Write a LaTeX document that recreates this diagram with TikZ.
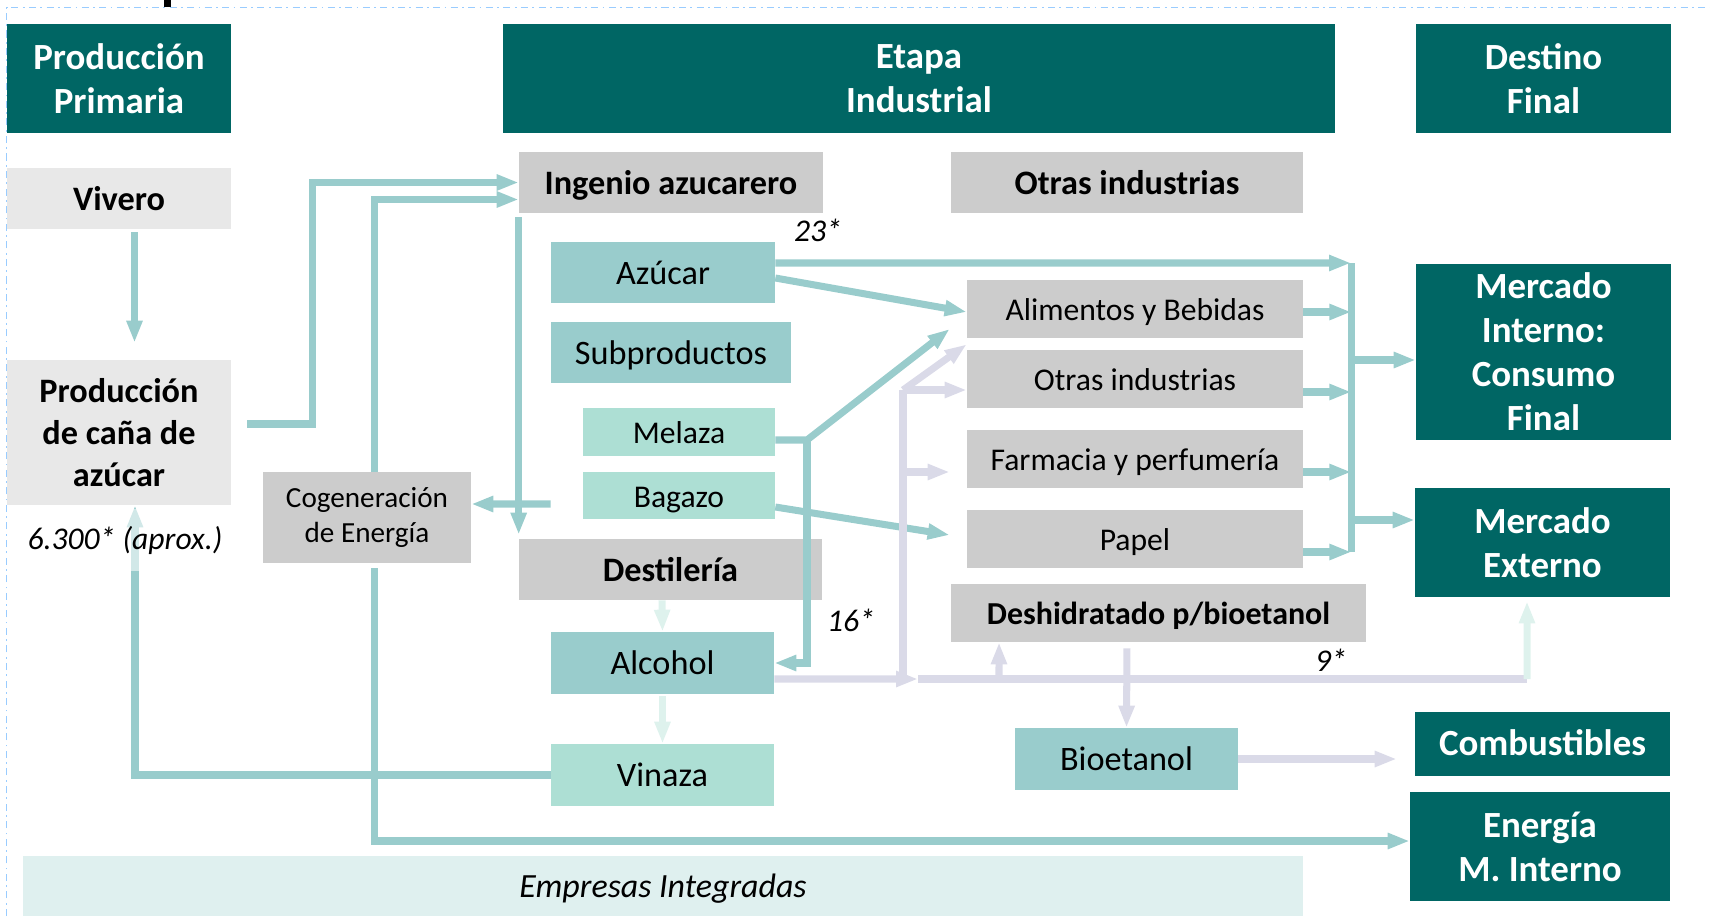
\documentclass[tikz,border=0pt]{standalone}
\usepackage{fontspec}
\setmainfont{Carlito}
\usepackage{tikz}
\usetikzlibrary{positioning, arrows.meta}

\definecolor{teDark}{RGB}{0,102,100}
\definecolor{teFlow}{RGB}{153,204,204}
\definecolor{teMint}{RGB}{173,223,212}
\definecolor{grBox}{RGB}{204,204,204}
\definecolor{grLight}{RGB}{232,232,232}
\definecolor{lavLine}{RGB}{218,218,232}
\definecolor{palLine}{RGB}{222,242,237}
\definecolor{bandBg}{RGB}{223,240,239}
\definecolor{borderBlue}{RGB}{153,204,255}

\begin{document}
\begin{tikzpicture}[x=0.02cm, y=-0.02cm,
		box/.style={rectangle, inner sep=0pt, align=center},
		oneline/.style={text height=13.5pt, text depth=0pt},
		head/.style={box, fill=teDark, text=white, minimum height=2.18cm, font=\fontsize{21}{25}\selectfont\bfseries},
		prim/.style={box, fill=grLight, minimum width=4.48cm, font=\fontsize{19.5}{23.8}\selectfont\bfseries},
		stage/.style={box, oneline, fill=grBox, minimum height=1.22cm, font=\fontsize{19.5}{23}\selectfont\bfseries},
		sector/.style={box, oneline, fill=grBox, minimum width=6.72cm, minimum height=1.16cm, font=\fontsize{18}{21}\selectfont},
		product/.style={box, oneline, fill=teFlow, minimum height=1.22cm, font=\fontsize{19.5}{23}\selectfont},
		byprod/.style={box, oneline, fill=teMint, minimum width=3.84cm, font=\fontsize{18}{21}\selectfont},
		cifra/.style={font=\fontsize{18}{21}\selectfont\itshape},
		link/.style={draw=teFlow, line width=4pt},
		flow/.style={link, -{Triangle[width=0.3cm, length=0.44cm]}},
		lavlink/.style={link, draw=lavLine},
		lavflow/.style={flow, draw=lavLine},
		palflow/.style={flow, draw=palLine}]
				\useasboundingbox (0,0) rectangle (1710,916);
				\draw[borderBlue, line width=0.6pt, dash pattern=on 4pt off 2.5pt on 1pt off 2.5pt] (6.5,916) -- (6.5,7.3) -- (1710,7.3);
				\fill (164,0) rectangle (171,7);
				
				% Encabezados
				\node[head, minimum width=4.48cm] (hprim) at (119,78.5) {Producción\\Primaria};
				\node[head, minimum width=16.64cm] (hind) at (919,78.5) {Etapa\\Industrial};
				\node[head, minimum width=5.1cm] (hdest) at (1543.5,78.5) {Destino\\Final};
				
				% Producción primaria
				\node[prim, oneline, minimum height=1.22cm] (vivero) at (119,198.5) {Vivero};
				\node[prim, minimum height=2.9cm] (cana) at (119,432.5) {Producción\\de caña de\\azúcar};
				\node[box, fill=grBox, minimum width=4.16cm, minimum height=1.82cm, font=\fontsize{16.6}{19.8}\selectfont] (cogen) at (367,517.5) {Cogeneración\\de Energía};
				
				% Etapa industrial
				\node[stage, minimum width=6.08cm] (ingenio) at (671,182.5) {Ingenio azucarero};
				\node[stage, minimum width=7.04cm] (otrashead) at (1127,182.5) {Otras industrias};
				\node[product, minimum width=4.48cm] (azucar) at (663,272.5) {Azúcar};
				\node[product, minimum width=4.8cm] (subprod) at (671,352.5) {Subproductos};
				\node[byprod, minimum height=0.96cm] (melaza) at (679,432) {Melaza};
				\node[byprod, minimum height=0.94cm] (bagazo) at (679,495.5) {Bagazo};
				\node[stage, minimum width=6.06cm] (destil) at (670.5,569.5) {Destilería};
				\node[product, minimum width=4.46cm, minimum height=1.24cm] (alcohol) at (662.5,663) {Alcohol};
				\node[byprod, minimum width=4.46cm, minimum height=1.24cm, font=\fontsize{19.5}{23}\selectfont] (vinaza) at (662.5,775) {Vinaza};
				\node[sector] (alim) at (1135,309) {Alimentos y Bebidas};
				\node[sector] (otras) at (1135,379) {Otras industrias};
				\node[sector] (farm) at (1135,459) {Farmacia y perfumería};
				\node[sector] (papel) at (1135,539) {Papel};
				\node[stage, minimum width=8.3cm, minimum height=1.16cm, font=\fontsize{18.2}{21}\selectfont\bfseries] (deshid) at (1158.5,613) {Deshidratado p/bioetanol};
				\node[product, minimum width=4.46cm, minimum height=1.24cm] (bioet) at (1126.5,759) {Bioetanol};
				\node[box, oneline, fill=bandBg, minimum width=25.6cm, minimum height=1.2cm, font=\fontsize{19.3}{23}\selectfont\itshape] (empresas) at (663,886) {Empresas Integradas};
				
				% Destino final
				\node[head, minimum width=5.1cm, minimum height=3.52cm] (minterno) at (1543.5,352) {Mercado\\Interno:\\Consumo\\Final};
				\node[head, minimum width=5.1cm] (mexterno) at (1542.5,542.5) {Mercado\\Externo};
				\node[head, oneline, minimum width=5.1cm, minimum height=1.28cm] (combust) at (1542.5,744) {Combustibles};
				\node[head, minimum width=5.2cm] (energia) at (1540,846.5) {Energía\\M. Interno};
				
				% Puntos de unión
				\coordinate (bustop) at (1351,263);
				\coordinate (busbot) at (1351,552);
				\coordinate (busint) at (1351,360);
				\coordinate (busext) at (1351,520);
				\coordinate (melj) at (807,440);
				\coordinate (alcj) at (918,679);
				\coordinate (lavbot) at (903,679);
				\coordinate (lavtop) at (903,390);
				\coordinate (lavfarm) at (903,472);
				\coordinate (extj) at (1527,679);
				
				% Flujos de la producción primaria
				\draw[flow, shorten <=0.06cm, shorten >=0.34cm] ([xshift=0.31cm]vivero.south) -- ([xshift=0.31cm]cana.north);
				\draw[flow] ([xshift=0.32cm, yshift=0.17cm]cana.east) -- ++(1.3cm,0) |- (ingenio.west);
				\draw[flow] ([xshift=0.15cm]cogen.north) |- ([yshift=-0.34cm]ingenio.west);
				\draw[flow, shorten <=0.1cm] ([xshift=0.15cm]cogen.south) |- ([yshift=0.11cm]energia.west);
				\draw[flow] (vinaza.west) -| ([xshift=0.32cm]cana.south);
				\node[cifra, fill=white, fill opacity=0.55, text opacity=1, inner sep=0pt, minimum width=3.96cm, minimum height=1.24cm] (cifracana) at (125,540) {6.300* (aprox.)};
				
				% Flujos del ingenio
				\draw[flow, shorten <=0.08cm, shorten >=0.08cm] (ingenio.south west) -- (destil.north west);
				\draw[flow] ([xshift=-0.64cm, yshift=-0.17cm]bagazo.west) -- ([yshift=0.27cm]cogen.east);
				\draw[flow] ([yshift=0.19cm]azucar.east) -- (bustop);
				\draw[flow] ([yshift=-0.11cm]azucar.east) -- ([yshift=-0.06cm]alim.west);
				\draw[flow] ([yshift=-0.16cm]melaza.east) -- (melj) -- ([xshift=-0.34cm, yshift=-0.4cm]alim.west);
				\draw[flow] (melj) |- (alcohol.east);
				\draw[flow] ([yshift=-0.23cm]bagazo.east) -- ([xshift=-0.34cm, yshift=0.08cm]papel.west);
				\draw[palflow] ([xshift=-0.17cm]destil.south) -- (alcohol.north);
				\draw[palflow, shorten <=0.04cm] (alcohol.south) -- (vinaza.north);
				
				% Otras industrias hacia el mercado
				\draw[link] (bustop) -- (busbot);
				\foreach \sec/\dy in {alim/-0.06, otras/-0.26, farm/-0.26, papel/-0.26}
					\draw[flow] ([yshift=\dy cm]\sec.east) -- ++(0.96cm,0);
				\draw[flow] (busint) -- (busint -| minterno.west);
				\draw[flow] (busext) -- (busext -| mexterno.west);
				
				% Alcohol y bioetanol
				\draw[lavflow] ([yshift=-0.32cm]alcohol.east) -- (alcj);
				\draw[lavlink] (lavbot) -- (lavtop);
				\draw[lavflow] (lavtop) -- (lavtop -| otras.west);
				\draw[lavflow] (lavtop) -- ([yshift=-0.12cm]alim.south west);
				\draw[lavflow, shorten >=0.34cm] (lavfarm) -- (lavfarm -| farm.west);
				\draw[lavlink] (alcj) -- (extj);
				\draw[palflow, shorten >=0.08cm] (extj) -- ([xshift=-0.31cm]mexterno.south);
				\draw[lavflow] (alcj) ++(1.62cm,0) -- ([xshift=-3.19cm]deshid.south);
				\draw[lavflow, shorten <=0.12cm] ([xshift=-0.63cm]deshid.south) -- (bioet.north);
				\draw[lavflow, shorten >=0.36cm] (bioet.east) -- (bioet.east -| combust.west);
				
				% Cifras
				\node[cifra] (cifra23) at (818,230) {23*};
				\node[cifra] (cifra16) at (851,620) {16*};
				\node[cifra] (cifra9) at (1331,660) {9*};
			\end{tikzpicture}
\end{document}
